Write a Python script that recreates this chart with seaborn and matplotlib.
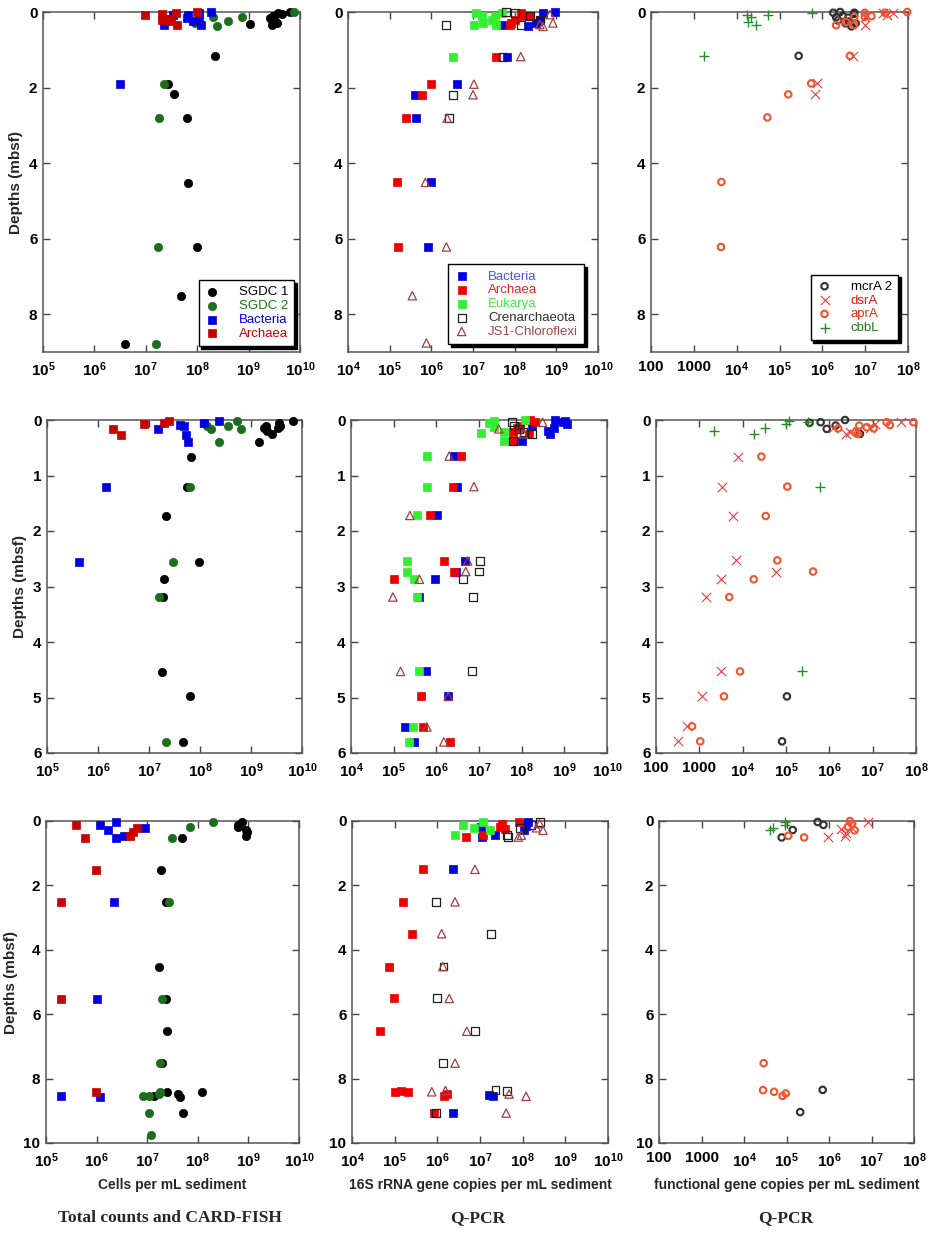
import numpy as np
import pandas as pd
import matplotlib
matplotlib.use('Agg')
import matplotlib.pyplot as plt
import seaborn as sns
from matplotlib.ticker import FixedLocator, FixedFormatter, NullLocator

# ---------------- DATA ----------------
# Row 1 (core 1) ---- Total counts & CARD-FISH
A1_sgdc1_x = [6.4e9, 4.4e9, 3.8e9, 3.0e9, 2.6e9, 2.9e9, 3.5e9, 3.2e9, 2.8e9, 1.07e9, 2.2e8, 2.7e7, 3.6e7, 6.2e7, 6.6e7, 1.0e8, 4.8e7, 3.9e6]
A1_sgdc1_d = [0.0, 0.05, 0.02, 0.1, 0.15, 0.2, 0.3, 0.25, 0.35, 0.32, 1.16, 1.9, 2.18, 2.8, 4.52, 6.22, 7.52, 8.78]
A1_sgdc2_x = [7.8e9, 7.6e8, 4.0e8, 2.4e8, 2.0e8, 9.0e7, 2.3e7, 1.8e7, 1.7e7, 1.6e7]
A1_sgdc2_d = [0.0, 0.14, 0.25, 0.36, 0.14, 0.3, 1.9, 2.8, 6.22, 8.78]
A1_bact_x = [1.85e8, 1.07e8, 6.7e7, 6.3e7, 8.3e7, 1.1e8, 1.2e8, 2.3e7, 3.4e7, 3.2e6]
A1_bact_d = [0.0, 0.03, 0.07, 0.16, 0.25, 0.18, 0.34, 0.34, 0.09, 1.9]
A1_arch_x = [9.8e6, 2.1e7, 3.8e7, 2.5e7, 2.8e7, 3.1e7, 4.0e7, 9.7e7, 2.1e7]
A1_arch_d = [0.09, 0.05, 0.03, 0.18, 0.25, 0.18, 0.34, 0.0, 0.2]

# Row 1 ---- 16S Q-PCR
A2_bact_x = [9.1e8, 4.8e8, 4.0e8, 3.3e8, 2.1e8, 5.0e7, 6.6e7, 4.2e6, 4.0e5, 4.2e5, 9.6e5, 8.5e5]
A2_bact_d = [0.0, 0.03, 0.2, 0.29, 0.38, 0.35, 1.18, 1.91, 2.19, 2.81, 4.51, 6.22]
A2_arch_x = [1.45e8, 1.6e8, 1.0e8, 8.3e7, 7.6e7, 2.3e8, 3.6e7, 9.8e5, 5.9e5, 2.4e5, 1.5e5, 1.6e5]
A2_arch_d = [0.03, 0.11, 0.2, 0.29, 0.35, 0.11, 1.18, 1.91, 2.19, 2.81, 4.51, 6.22]
A2_euk_x = [1.2e7, 1.6e7, 1.7e7, 1.05e7, 2.8e7, 3.4e7, 3.6e7, 5.0e7, 3.3e6]
A2_euk_d = [0.03, 0.11, 0.29, 0.35, 0.2, 0.11, 0.35, 0.03, 1.18]
A2_cren_x = [2.2e6, 6.3e7, 1.0e8, 1.45e8, 2.3e8, 4.0e8, 5.2e7, 3.3e6, 2.7e6]
A2_cren_d = [0.35, 0.0, 0.03, 0.35, 0.11, 0.2, 1.18, 2.19, 2.81]
A2_js1_x = [8.3e8, 4.8e8, 7.0e8, 4.0e8, 1.4e8, 1.05e7, 1.0e7, 2.4e6, 7.2e5, 2.3e6, 3.5e5, 7.6e5]
A2_js1_d = [0.29, 0.38, 0.07, 0.33, 1.18, 1.91, 2.19, 2.81, 4.51, 6.22, 7.51, 8.76]

# Row 1 ---- functional genes
A3_mcra_x = [1.8e6, 2.6e6, 2.1e6, 2.3e6, 3.0e6, 3.5e6, 4.0e6, 4.8e6, 5.5e6, 6.0e6, 4.2e6, 5.6e6, 2.8e5]
A3_mcra_d = [0.02, 0.0, 0.14, 0.22, 0.1, 0.3, 0.15, 0.38, 0.05, 0.3, 0.25, 0.02, 1.16]
A3_dsra_x = [9.8e6, 9.8e6, 3.2e7, 4.5e7, 2.6e7, 5.3e6, 7.4e5, 6.9e5, 2.8e6]
A3_dsra_d = [0.13, 0.35, 0.09, 0.02, 0.02, 1.16, 1.89, 2.18, 0.2]
A3_apra_x = [9.6e7, 2.9e7, 1.4e7, 9.8e6, 9.8e6, 5.6e6, 5.5e6, 3.6e6, 2.1e6, 4.4e6, 5.5e5, 1.6e5, 5.2e4, 4.4e3, 4.3e3]
A3_apra_d = [0.0, 0.02, 0.11, 0.02, 0.13, 0.13, 0.35, 0.27, 0.35, 1.16, 1.89, 2.18, 2.79, 4.5, 6.22]
A3_cbbl_x = [1.7e4, 2.2e4, 1.8e4, 2.8e4, 5.5e4, 5.7e5, 1.7e3]
A3_cbbl_d = [0.09, 0.13, 0.27, 0.35, 0.07, 0.02, 1.16]

# Row 2 ---- Total counts & CARD-FISH
B1_sgdc1_x = [6.6e9, 3.6e9, 3.7e9, 3.4e9, 1.95e9, 1.8e9, 2.05e9, 2.6e9, 1.45e9, 6.6e7, 5.6e7, 2.2e7, 9.6e7, 1.95e7, 1.9e7, 1.8e7, 6.5e7, 4.7e7]
B1_sgdc1_d = [0.02, 0.05, 0.11, 0.15, 0.11, 0.15, 0.2, 0.26, 0.39, 0.66, 1.2, 1.73, 2.55, 2.87, 3.19, 4.54, 4.98, 5.8]
B1_sgdc2_x = [5.4e8, 6.3e8, 3.6e8, 1.65e8, 1.4e8, 2.35e8, 6.5e7, 2.9e7, 1.6e7, 2.2e7]
B1_sgdc2_d = [0.02, 0.17, 0.11, 0.17, 0.11, 0.39, 1.2, 2.55, 3.19, 5.8]
B1_bact_x = [2.4e8, 1.2e8, 4.1e7, 4.9e7, 1.5e7, 5.4e7, 5.8e7, 1.45e6, 4.2e5]
B1_bact_d = [0.02, 0.06, 0.09, 0.11, 0.17, 0.27, 0.39, 1.21, 2.55]
B1_arch_x = [2.5e7, 2.0e7, 8.1e6, 2.0e6, 2.8e6]
B1_arch_d = [0.02, 0.06, 0.08, 0.17, 0.27]

# Row 2 ---- 16S Q-PCR
B2_bact_x = [6.2e8, 9.2e8, 1.15e9, 1.05e9, 4.1e8, 5.6e8, 4.6e8, 1.75e8, 1.0e8, 2.6e6, 3.0e6, 1.05e6, 4.6e6, 2.9e6, 9.3e5, 4.0e5, 5.7e5, 1.9e6, 1.8e5, 3.0e5]
B2_bact_d = [0.0, 0.04, 0.07, 0.01, 0.19, 0.15, 0.25, 0.1, 0.38, 0.65, 1.2, 1.72, 2.54, 2.73, 2.87, 3.19, 4.53, 4.98, 5.53, 5.8]
B2_arch_x = [1.6e8, 2.0e8, 9.3e7, 7.8e7, 6.2e7, 1.5e8, 6.2e7, 3.8e6, 2.45e6, 7.2e5, 1.55e6, 2.6e6, 1.0e5, 4.4e5, 5.0e5, 2.1e6]
B2_arch_d = [0.0, 0.04, 0.1, 0.15, 0.21, 0.25, 0.38, 0.65, 1.2, 1.72, 2.54, 2.73, 2.87, 4.98, 5.53, 5.8]
B2_euk_x = [1.2e8, 1.75e7, 2.2e7, 2.3e7, 3.8e7, 1.1e7, 3.8e7, 6.0e5, 6.0e5, 3.6e5, 2.0e5, 2.0e5, 3.0e5, 3.6e5, 3.9e5, 2.8e5, 2.3e5]
B2_euk_d = [0.0, 0.05, 0.02, 0.13, 0.21, 0.24, 0.38, 0.65, 1.2, 1.72, 2.54, 2.73, 2.87, 3.19, 4.53, 5.53, 5.8]
B2_cren_x = [5.8e7, 6.5e7, 8.5e7, 1.1e8, 1.75e8, 6.2e7, 1.05e7, 1.0e7, 4.2e6, 7.1e6, 6.7e6]
B2_cren_d = [0.04, 0.1, 0.16, 0.21, 0.25, 0.38, 2.54, 2.73, 2.87, 3.19, 4.53]
B2_js1_x = [3.1e8, 2.9e7, 1.1e8, 2.0e6, 7.6e6, 2.4e5, 5.4e6, 4.9e6, 4.0e5, 9.6e4, 1.45e5, 1.9e6, 6.0e5, 1.5e6]
B2_js1_d = [0.04, 0.16, 0.25, 0.65, 1.2, 1.72, 2.54, 2.73, 2.87, 3.19, 4.53, 4.98, 5.53, 5.8]

# Row 2 ---- functional genes
B3_mcra_x = [3.5e5, 6.3e5, 8.7e5, 1.4e6, 2.3e6, 5.1e6, 1.05e5, 8.1e4]
B3_mcra_d = [0.05, 0.04, 0.16, 0.1, 0.0, 0.25, 4.98, 5.79]
B3_dsra_x = [4.5e7, 1.15e7, 8.7e6, 4.5e6, 3.0e6, 2.4e6, 1.2e6, 8.0e3, 3.3e3, 5.9e3, 6.9e3, 5.9e4, 3.1e3, 1.4e3, 3.2e3, 1.15e3, 5.2e2, 3.3e2]
B3_dsra_d = [0.04, 0.07, 0.15, 0.19, 0.22, 0.25, 0.15, 0.66, 1.2, 1.73, 2.53, 2.73, 2.87, 3.19, 4.53, 4.98, 5.52, 5.79]
B3_apra_x = [8.7e7, 2.1e7, 2.5e7, 1.05e7, 7.3e6, 4.9e6, 4.5e6, 1.6e6, 4.0e6, 2.7e4, 1.07e5, 3.4e4, 6.3e4, 4.2e5, 1.8e4, 4.9e3, 8.7e3, 3.7e3, 6.8e2, 1.05e3]
B3_apra_d = [0.04, 0.04, 0.09, 0.15, 0.13, 0.1, 0.25, 0.15, 0.22, 0.66, 1.2, 1.73, 2.53, 2.73, 2.87, 3.19, 4.53, 4.98, 5.52, 5.79]
B3_cbbl_x = [2.2e3, 1.8e4, 3.3e4, 1.0e5, 1.2e5, 3.3e5, 6.2e5, 2.3e5]
B3_cbbl_d = [0.2, 0.25, 0.15, 0.07, 0.02, 0.04, 1.2, 4.53]

# Row 3 ---- Total counts & CARD-FISH
C1_sgdc1_x = [7.6e8, 6.3e8, 6.2e8, 8.9e8, 9.2e8, 8.9e8, 4.9e7, 1.9e7, 2.4e7, 1.75e7, 2.4e7, 2.5e7, 2.0e7, 1.2e8, 2.5e7, 4.0e7, 4.5e7, 1.35e7, 5.1e7]
C1_sgdc1_d = [0.03, 0.13, 0.2, 0.27, 0.34, 0.48, 0.52, 1.52, 2.52, 4.53, 5.53, 6.52, 7.52, 8.42, 8.42, 8.47, 8.56, 8.53, 9.07]
C1_sgdc2_x = [2.0e8, 6.9e7, 3.1e7, 2.7e7, 2.0e7, 1.8e7, 1.8e7, 1.75e7, 1.07e7, 8.1e6, 1.07e7, 1.18e7]
C1_sgdc2_d = [0.03, 0.19, 0.52, 2.52, 5.53, 7.52, 8.42, 8.49, 8.53, 8.55, 9.07, 9.74]
C1_bact_x = [2.4e6, 1.15e6, 1.7e6, 2.4e6, 3.5e6, 9.1e6, 2.2e6, 1.0e6, 2.0e5, 1.18e6]
C1_bact_d = [0.03, 0.13, 0.29, 0.52, 0.46, 0.21, 2.52, 5.53, 8.53, 8.56]
C1_arch_x = [4.0e5, 6.0e5, 4.6e6, 5.3e6, 6.3e6, 9.8e5, 2.0e5, 2.0e5, 9.8e5]
C1_arch_d = [0.13, 0.52, 0.46, 0.34, 0.21, 1.52, 2.52, 5.53, 8.42]

# Row 3 ---- 16S Q-PCR
C2_bact_x = [1.3e8, 1.2e8, 1.1e8, 1.05e7, 1.1e7, 2.2e7, 2.3e6, 1.6e7, 2.0e7, 2.3e6]
C2_bact_d = [0.02, 0.16, 0.29, 0.19, 0.5, 0.44, 1.5, 8.5, 8.55, 9.07]
C2_arch_x = [8.3e7, 3.3e7, 2.9e7, 3.9e7, 1.2e7, 4.6e6, 4.7e5, 1.55e5, 2.5e5, 7.5e4, 9.8e4, 4.6e4, 1.03e5, 1.4e5, 2.0e5, 1.4e6, 1.65e6, 8.5e5]
C2_arch_d = [0.02, 0.1, 0.19, 0.26, 0.44, 0.5, 1.5, 2.51, 3.5, 4.52, 5.51, 6.53, 8.41, 8.37, 8.41, 8.55, 8.48, 9.07]
C2_euk_x = [4.0e6, 1.2e7, 7.2e6, 1.7e7, 2.6e6]
C2_euk_d = [0.12, 0.02, 0.21, 0.29, 0.44]
C2_cren_x = [2.5e8, 1.6e8, 8.7e7, 4.2e7, 4.6e7, 9.1e5, 1.8e7, 1.4e6, 1.0e6, 7.6e6, 1.35e6, 2.3e7, 4.2e7, 9.3e5]
C2_cren_d = [0.02, 0.12, 0.21, 0.44, 0.5, 2.51, 3.5, 4.52, 5.51, 6.53, 7.52, 8.35, 8.39, 9.07]
C2_js1_x = [2.5e8, 2.1e8, 3.0e8, 9.3e7, 7.9e7, 7.6e6, 2.6e6, 1.26e6, 1.35e6, 1.9e6, 4.9e6, 2.6e6, 7.4e5, 1.55e6, 4.8e7, 1.2e8, 4.1e7]
C2_js1_d = [0.08, 0.21, 0.29, 0.44, 0.5, 1.5, 2.51, 3.5, 4.52, 5.51, 6.53, 7.52, 8.41, 8.37, 8.48, 8.55, 9.07]

# Row 3 ---- functional genes
C3_mcra_x = [5.4e5, 7.4e5, 1.4e5, 7.7e4, 7.1e5, 2.1e5]
C3_mcra_d = [0.03, 0.12, 0.28, 0.51, 8.35, 9.04]
C3_dsra_x = [8.1e6, 1.9e6, 2.5e6, 2.4e6, 9.6e5, 3.3e6]
C3_dsra_d = [0.03, 0.26, 0.36, 0.46, 0.51, 0.19]
C3_apra_x = [3.1e6, 3.5e6, 2.8e6, 4.0e6, 1.1e5, 2.6e5, 2.9e4, 2.8e4, 5.1e4, 9.6e4, 8.1e4]
C3_apra_d = [0.0, 0.1, 0.18, 0.29, 0.46, 0.51, 7.52, 8.36, 8.41, 8.46, 8.54]
C3_cbbl_x = [4.0e4, 4.7e4, 9.1e4, 9.4e4]
C3_cbbl_d = [0.28, 0.21, 0.03, 0.12]

# axis ticks / labels
ticks_cells = [1e5, 1e6, 1e7, 1e8, 1e9, 1e10]
ticks_16s = [1e4, 1e5, 1e6, 1e7, 1e8, 1e9, 1e10]
ticks_func = [1e2, 1e3, 1e4, 1e5, 1e6, 1e7, 1e8]
labels_func = ['100', '1000', r'$\mathbf{10^{4}}$', r'$\mathbf{10^{5}}$', r'$\mathbf{10^{6}}$',
               r'$\mathbf{10^{7}}$', r'$\mathbf{10^{8}}$']
depth_max = [9, 6, 10]
depth_ticks = [[0, 2, 4, 6, 8], [0, 1, 2, 3, 4, 5, 6], [0, 2, 4, 6, 8, 10]]
xlabels = ['Cells per mL sediment', '16S rRNA gene copies per mL sediment',
           'functional gene copies per mL sediment']
col_titles = ['Total counts and CARD-FISH', 'Q-PCR', 'Q-PCR']

# ---------------- STYLE ----------------
sns.set_theme(style='white')
plt.rcParams['font.family'] = ['Liberation Sans', 'DejaVu Sans']
plt.rcParams['mathtext.fontset'] = 'custom'
plt.rcParams['mathtext.rm'] = 'Liberation Sans'
plt.rcParams['mathtext.bf'] = 'Liberation Sans:bold'
plt.rcParams['mathtext.it'] = 'Liberation Sans:italic'

# name: (marker, color, fill, size, lw, legend text color)
STY = {
    'SGDC 1': ('o', '#000000', 'full', 36, 0.5, '#000000'),
    'SGDC 2': ('o', '#1C6E1C', 'full', 36, 0.5, '#1C7A1C'),
    'Bacteria': ('s', '#0000E0', 'full', 36, 0.5, '#0000E0'),
    'Archaea': ('s', '#C80000', 'full', 36, 0.5, '#C80000'),
    'Bacteria16': ('s', '#0000E0', 'full', 36, 0.5, '#5050F0'),
    'Archaea16': ('s', '#EE0000', 'full', 36, 0.5, '#EE2020'),
    'Eukarya': ('s', '#30F030', 'full', 36, 0.5, '#40EE40'),
    'Crenarchaeota': ('s', '#202020', 'none', 32, 0.9, '#303030'),
    'JS1-Chloroflexi': ('^', '#A04040', 'none', 36, 0.9, '#A04848'),
    'mcrA 2': ('8', '#303030', 'none', 24, 1.5, '#000000'),
    'dsrA': ('x', '#F03A3A', 'line', 45, 0.8, '#EE1010'),
    'aprA': ('8', '#F05530', 'none', 24, 1.5, '#EE2A10'),
    'cbbL': ('+', '#2A8A2A', 'line', 45, 1.0, '#1C7A1C'),
}
DISPLAY = {'Bacteria16': 'Bacteria', 'Archaea16': 'Archaea'}

W, H = 930, 1240
fig = plt.figure(figsize=(W / 100, H / 100), dpi=100)

# pixel boxes (left, right, top, bottom)
boxes = [
    [(43, 300, 12, 352), (348, 598, 12, 352), (651, 908, 12, 352)],
    [(47, 302, 420, 753), (351, 607, 420, 753), (656, 916, 420, 753)],
    [(46, 299, 821, 1143), (352, 608, 821, 1143), (659, 914, 821, 1143)],
]

panels = [
    [
        [('SGDC 1', A1_sgdc1_x, A1_sgdc1_d), ('SGDC 2', A1_sgdc2_x, A1_sgdc2_d),
         ('Bacteria', A1_bact_x, A1_bact_d), ('Archaea', A1_arch_x, A1_arch_d)],
        [('Bacteria16', A2_bact_x, A2_bact_d), ('Archaea16', A2_arch_x, A2_arch_d),
         ('Eukarya', A2_euk_x, A2_euk_d), ('Crenarchaeota', A2_cren_x, A2_cren_d),
         ('JS1-Chloroflexi', A2_js1_x, A2_js1_d)],
        [('mcrA 2', A3_mcra_x, A3_mcra_d), ('dsrA', A3_dsra_x, A3_dsra_d),
         ('aprA', A3_apra_x, A3_apra_d), ('cbbL', A3_cbbl_x, A3_cbbl_d)],
    ],
    [
        [('SGDC 1', B1_sgdc1_x, B1_sgdc1_d), ('SGDC 2', B1_sgdc2_x, B1_sgdc2_d),
         ('Bacteria', B1_bact_x, B1_bact_d), ('Archaea', B1_arch_x, B1_arch_d)],
        [('Bacteria16', B2_bact_x, B2_bact_d), ('Archaea16', B2_arch_x, B2_arch_d),
         ('Eukarya', B2_euk_x, B2_euk_d), ('Crenarchaeota', B2_cren_x, B2_cren_d),
         ('JS1-Chloroflexi', B2_js1_x, B2_js1_d)],
        [('mcrA 2', B3_mcra_x, B3_mcra_d), ('dsrA', B3_dsra_x, B3_dsra_d),
         ('aprA', B3_apra_x, B3_apra_d), ('cbbL', B3_cbbl_x, B3_cbbl_d)],
    ],
    [
        [('SGDC 1', C1_sgdc1_x, C1_sgdc1_d), ('SGDC 2', C1_sgdc2_x, C1_sgdc2_d),
         ('Bacteria', C1_bact_x, C1_bact_d), ('Archaea', C1_arch_x, C1_arch_d)],
        [('Bacteria16', C2_bact_x, C2_bact_d), ('Archaea16', C2_arch_x, C2_arch_d),
         ('Eukarya', C2_euk_x, C2_euk_d), ('Crenarchaeota', C2_cren_x, C2_cren_d),
         ('JS1-Chloroflexi', C2_js1_x, C2_js1_d)],
        [('mcrA 2', C3_mcra_x, C3_mcra_d), ('dsrA', C3_dsra_x, C3_dsra_d),
         ('aprA', C3_apra_x, C3_apra_d), ('cbbL', C3_cbbl_x, C3_cbbl_d)],
    ],
]

xlims = [(1e5, 1e10), (1e4, 1e10), (1e2, 1e8)]
xticks = [ticks_cells, ticks_16s, ticks_func]
legend_anchor = [(0.977, 0.018), (0.944, 0.024), (0.961, 0.035)]


def dec_label(v):
    e = int(round(np.log10(v)))
    return r'$\mathbf{10^{%d}}$' % e


for r in range(3):
    for c in range(3):
        l, rr, t, b = boxes[r][c]
        ax = fig.add_axes([l / W, 1 - b / H, (rr - l) / W, (b - t) / H])
        handles = []
        names = []
        for key, xs, ds in panels[r][c]:
            m, col, fill, s, lw, tcol = STY[key]
            df = pd.DataFrame({'value': xs, 'depth': ds})
            kw = dict(marker=m, s=s, linewidth=lw, clip_on=False, zorder=3, legend=False)
            if fill == 'full':
                kw.update(color=col, edgecolor=col)
            elif fill == 'none':
                kw.update(color=col, facecolor='none', edgecolor=col)
            else:
                kw.update(color=col)
            sns.scatterplot(data=df, x='value', y='depth', ax=ax, **kw)
            handles.append(ax.collections[-1])
            names.append((DISPLAY.get(key, key), tcol))
        ax.set_xscale('log')
        ax.set_xlim(*xlims[c])
        ax.set_ylim(depth_max[r], 0)
        ax.xaxis.set_major_locator(FixedLocator(xticks[c]))
        if c == 2:
            ax.xaxis.set_major_formatter(FixedFormatter(labels_func))
        else:
            ax.xaxis.set_major_formatter(FixedFormatter([dec_label(v) for v in xticks[c]]))
        ax.xaxis.set_minor_locator(NullLocator())
        ax.yaxis.set_major_locator(FixedLocator(depth_ticks[r]))
        ax.yaxis.set_major_formatter(FixedFormatter([str(v) for v in depth_ticks[r]]))
        ax.yaxis.set_minor_locator(NullLocator())
        ax.tick_params(axis='both', which='major', direction='in', top=True, right=True,
                       bottom=True, left=True, length=5, width=1.0, color='#444444',
                       labelsize=11, labelcolor='black')
        ax.tick_params(axis='x', pad=6)
        ax.tick_params(axis='y', pad=4)
        for lab in ax.get_xticklabels() + ax.get_yticklabels():
            lab.set_fontweight('bold')
        for sp in ax.spines.values():
            sp.set_visible(True)
            sp.set_color('#555555')
            sp.set_linewidth(1.1)
        ax.set_xlabel('')
        ax.set_ylabel('')
        if c == 0:
            ax.set_ylabel('Depths (mbsf)', fontsize=11, fontweight='bold', labelpad=4)
        if r == 2:
            ax.set_xlabel(xlabels[c], fontsize=10, fontweight='bold', labelpad=6)
        if r == 0:
            leg = ax.legend(handles, [n for n, _ in names], loc='lower right',
                            bbox_to_anchor=legend_anchor[c], borderaxespad=0,
                            fontsize=9.5, frameon=True, fancybox=False,
                            shadow={'color': 'black', 'alpha': 1.0},
                            framealpha=1, edgecolor='black', labelspacing=0.12,
                            handlelength=1.2, handletextpad=1.4, borderpad=0.45,
                            markerscale=1.0)
            leg.get_frame().set_linewidth(1.0)
            for txt, (_, tc) in zip(leg.get_texts(), names):
                txt.set_color(tc)
            leg.set_zorder(5)

title_x = [170, 478, 786]
for c in range(3):
    fig.text(title_x[c] / W, 1 - 1218 / H, col_titles[c], ha='center', va='center',
             fontsize=12.5, fontweight='bold', family=['Liberation Serif', 'DejaVu Serif'])

fig.savefig('out.png', dpi=100, facecolor='white')
